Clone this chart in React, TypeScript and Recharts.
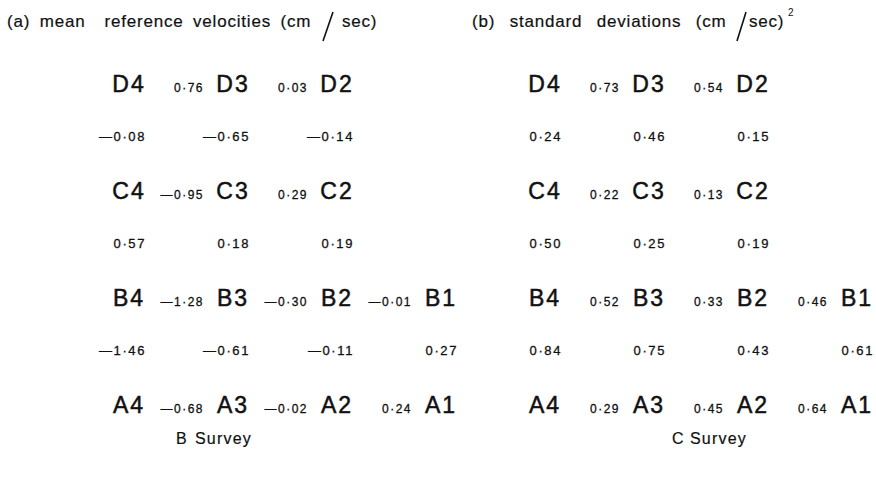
import React from 'react';
import { ScatterChart, Scatter, XAxis, YAxis } from 'recharts';

const W = 876;
const H = 478;

// Station grid: rows D, C, B, A; columns 4, 3, 2, 1
const rowNames = ['D', 'C', 'B', 'A'];
const stationCols = [
  ['4', '3', '2'],
  ['4', '3', '2'],
  ['4', '3', '2', '1'],
  ['4', '3', '2', '1'],
];

// (a) mean reference velocities (cm/sec) — B Survey
const meanAlong = [
  [0.76, 0.03],
  [-0.95, 0.29],
  [-1.28, -0.3, -0.01],
  [-0.68, -0.02, 0.24],
];
const meanAcross = [
  [-0.08, -0.65, -0.14],
  [0.57, 0.18, 0.19],
  [-1.46, -0.61, -0.11, 0.27],
];

// (b) standard deviations (cm/sec)^2 — C Survey
const sdAlong = [
  [0.73, 0.54],
  [0.22, 0.13],
  [0.52, 0.33, 0.46],
  [0.29, 0.45, 0.64],
];
const sdAcross = [
  [0.24, 0.46, 0.15],
  [0.5, 0.25, 0.19],
  [0.84, 0.75, 0.43, 0.61],
];

const panels = [
  { along: meanAlong, across: meanAcross },
  { along: sdAlong, across: sdAcross },
];

const FONT = '"Liberation Sans", Arial, Helvetica, sans-serif';
const INK = '#111';

const fmt = (v: number) =>
  (v < 0 ? '\u2014' : '') + Math.abs(v).toFixed(2).replace('.', '\u00B7');

type Pt = { x: number; y: number; label: string };

const stationPts: Pt[] = [];
const alongPts: Pt[] = [];
const acrossPts: Pt[] = [];

panels.forEach((p, pi) => {
  const colBase = pi * 4;
  stationCols.forEach((cols, r) => {
    cols.forEach((c, ci) => {
      stationPts.push({ x: colBase + ci, y: r, label: rowNames[r] + c });
    });
  });
  p.along.forEach((vals, r) => {
    vals.forEach((v, ci) => {
      alongPts.push({ x: colBase + ci + 0.5, y: r, label: fmt(v) });
    });
  });
  p.across.forEach((vals, r) => {
    vals.forEach((v, ci) => {
      acrossPts.push({ x: colBase + ci, y: r + 0.5, label: fmt(v) });
    });
  });
});

const StationShape = (props: any) => (
  <text
    x={props.cx + 1}
    y={props.cy + 8}
    textAnchor="middle"
    fontFamily={FONT}
    fontSize={23}
    letterSpacing={2}
    fill={INK}
    stroke={INK}
    strokeWidth={0.5}
  >
    {props.payload.label}
  </text>
);

const AlongShape = (props: any) => (
  <text
    x={props.cx + 24}
    y={props.cy + 8}
    textAnchor="end"
    fontFamily={FONT}
    fontSize={12}
    letterSpacing={1.5}
    fill={INK}
    stroke={INK}
    strokeWidth={0.3}
  >
    {props.payload.label}
  </text>
);

const AcrossShape = (props: any) => (
  <text
    x={props.cx + 18}
    y={props.cy + 3}
    textAnchor="end"
    fontFamily={FONT}
    fontSize={13}
    letterSpacing={1.6}
    fill={INK}
    stroke={INK}
    strokeWidth={0.3}
  >
    {props.payload.label}
  </text>
);

const T = (p: {
  x: number;
  y: number;
  s?: number;
  ls?: number;
  ws?: number;
  children: React.ReactNode;
}) => (
  <text
    x={p.x}
    y={p.y}
    fontFamily={FONT}
    fontSize={p.s ?? 17}
    letterSpacing={p.ls ?? 0.8}
    wordSpacing={p.ws ?? 0}
    fill={INK}
    stroke={INK}
    strokeWidth={0.2}
    style={{ whiteSpace: 'pre' }}
  >
    {p.children}
  </text>
);

const Titles = () => (
  <svg
    width={W}
    height={H}
    style={{ position: 'absolute', left: 0, top: 0, pointerEvents: 'none' }}
  >
    <T x={7} y={27} ws={4}>{'(a) mean  reference velocities (cm'}</T>
    <line x1={333} y1={12} x2={323} y2={41} stroke={INK} strokeWidth={1.6} />
    <T x={342} y={27}>sec)</T>

    <T x={472} y={27} ws={9}>{'(b) standard deviations (cm'}</T>
    <line x1={746} y1={12} x2={737} y2={41} stroke={INK} strokeWidth={1.6} />
    <T x={749} y={27}>sec)</T>
    <text x={788} y={16} fontFamily={FONT} fontSize={10} fill={INK}>2</text>

    <T x={176} y={444} s={16} ls={1.2}>B</T>
    <T x={195} y={444} s={16} ls={1.2}>Survey</T>
    <T x={672} y={444} s={16} ls={1.2}>C</T>
    <T x={690} y={444} s={16} ls={1.2}>Survey</T>
  </svg>
);

export default function App() {
  return (
    <div style={{ position: 'absolute', left: 0, top: 0, width: W, height: H, background: '#fff' }}>
      <ScatterChart width={W} height={H} margin={{ top: 0, right: 0, bottom: 0, left: 0 }}>
        <XAxis type="number" dataKey="x" domain={[-1.2308, 7.1923]} allowDataOverflow hide />
        <YAxis type="number" dataKey="y" domain={[-0.785, 3.682]} allowDataOverflow reversed hide />
        <Scatter data={stationPts} shape={StationShape} isAnimationActive={false} />
        <Scatter data={alongPts} shape={AlongShape} isAnimationActive={false} />
        <Scatter data={acrossPts} shape={AcrossShape} isAnimationActive={false} />
      </ScatterChart>
      <Titles />
    </div>
  );
}
